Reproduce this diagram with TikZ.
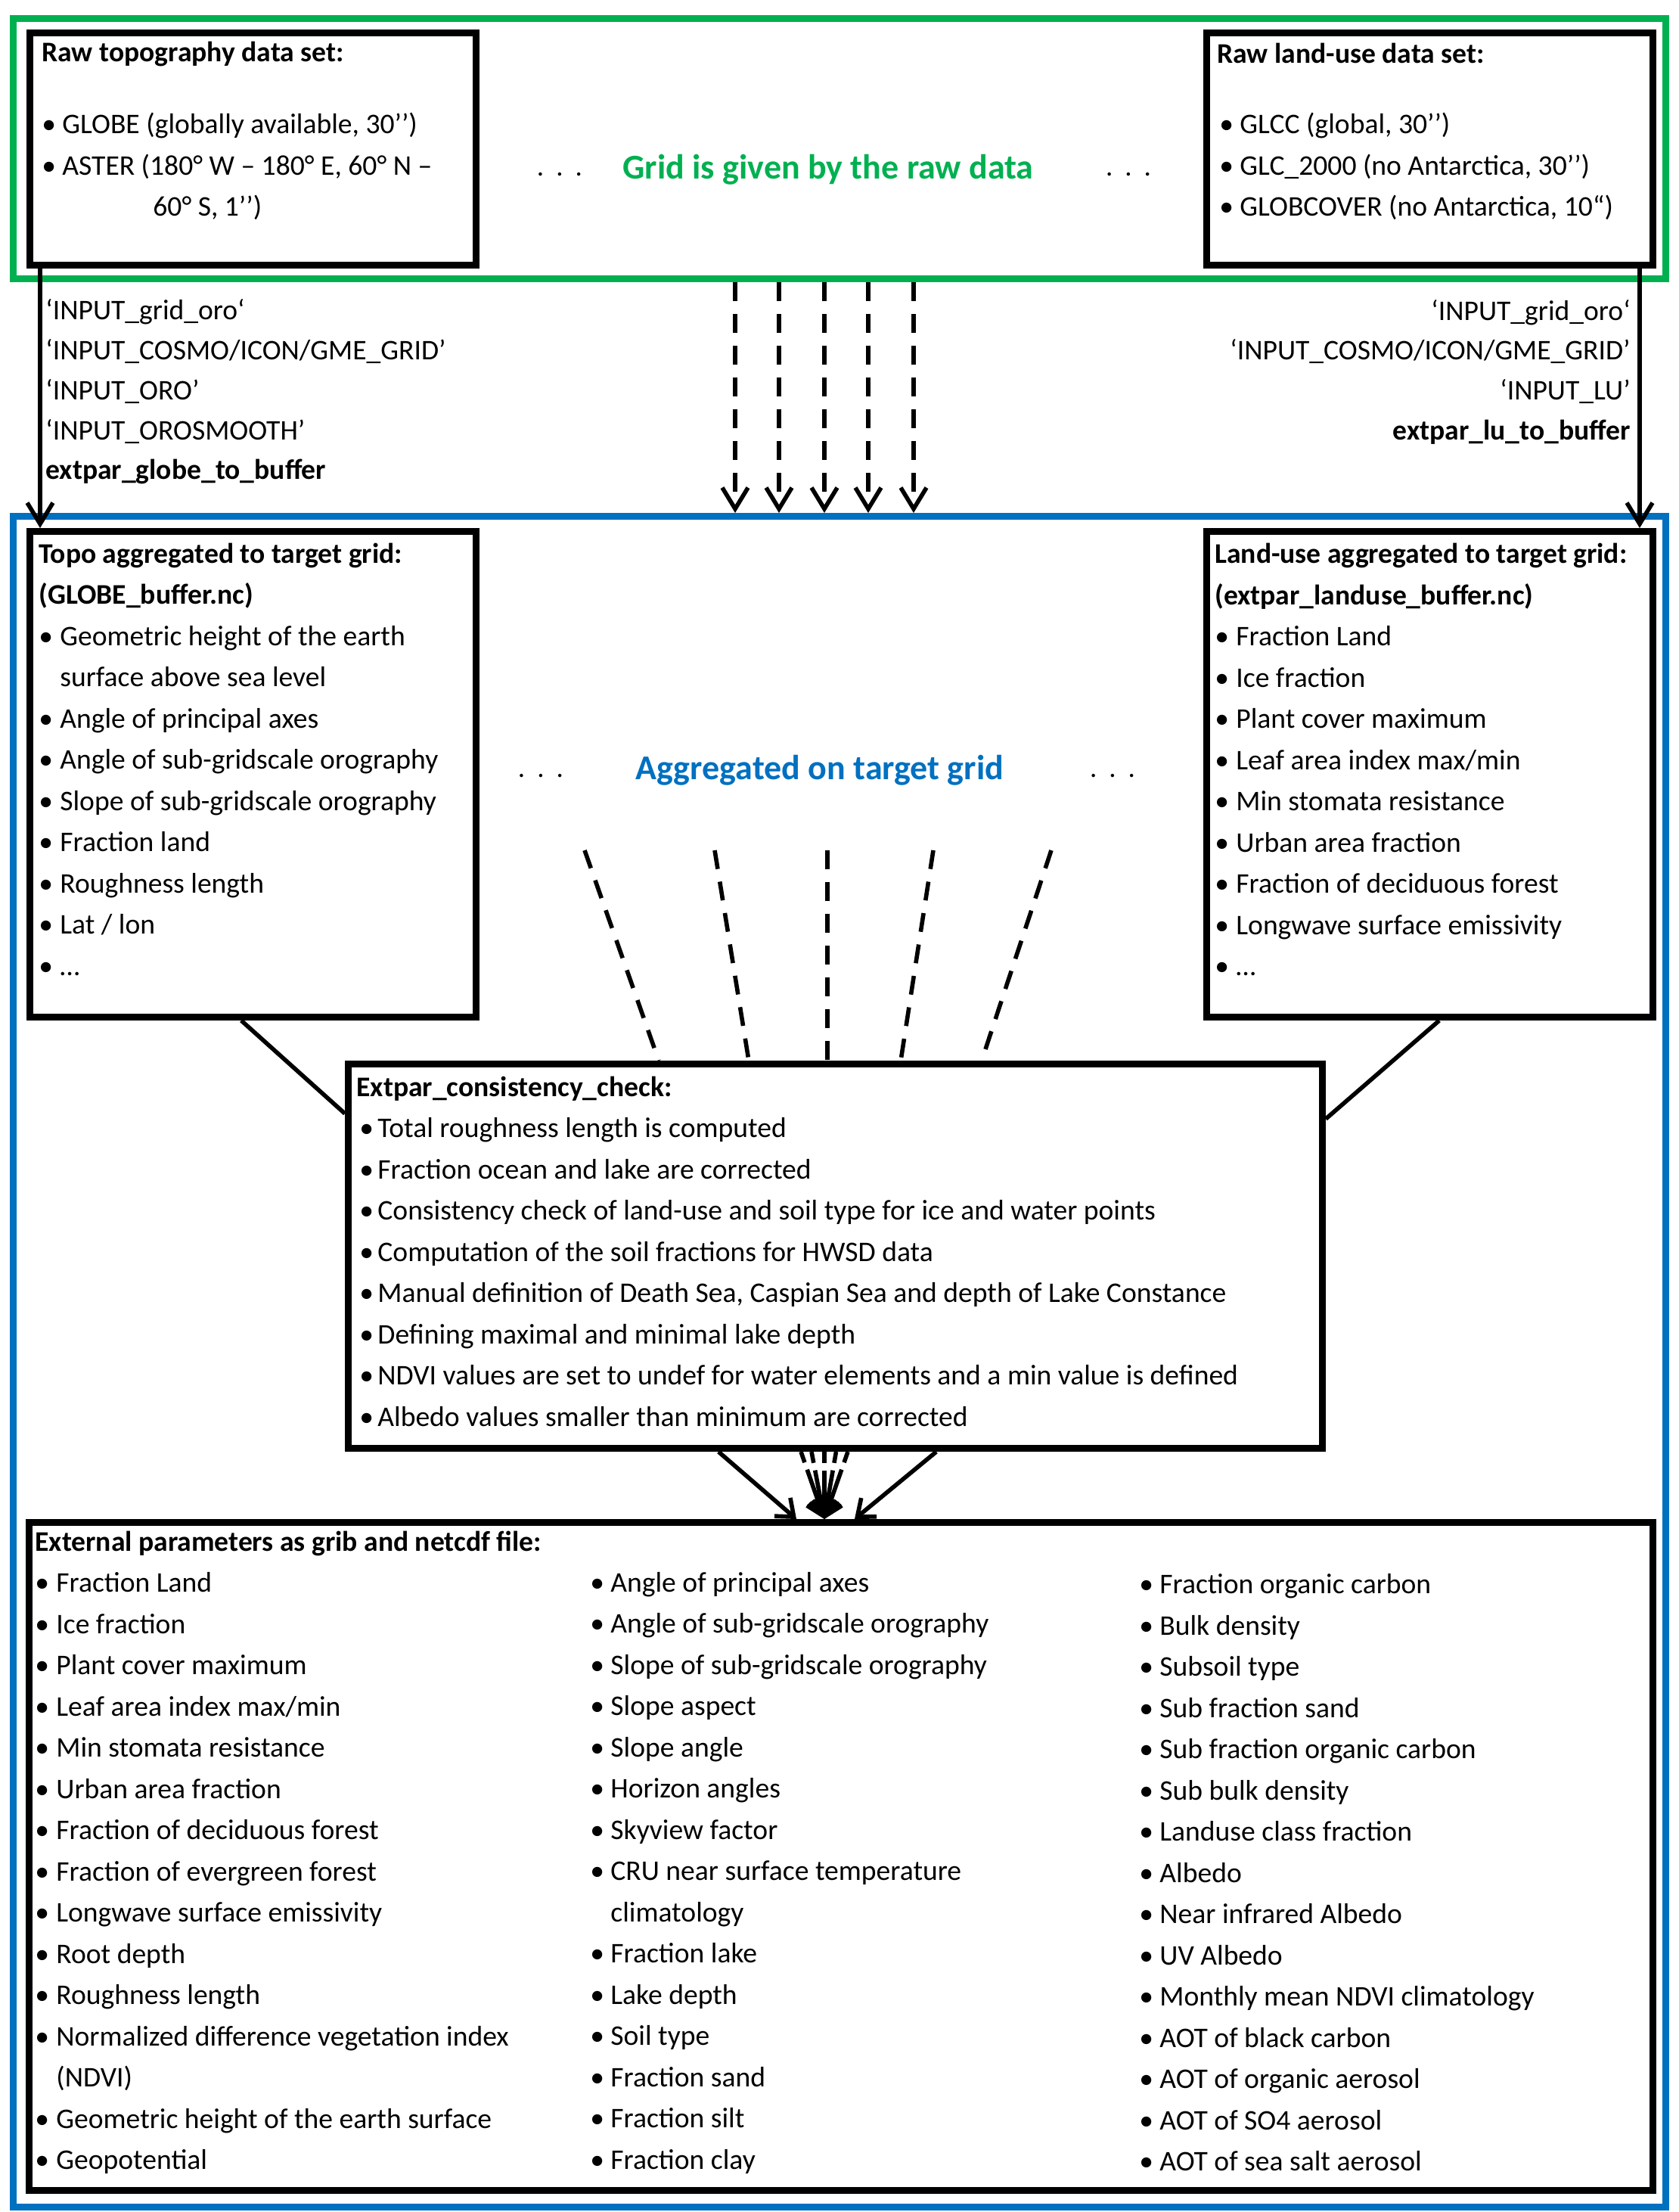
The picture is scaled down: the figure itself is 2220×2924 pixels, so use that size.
\documentclass[tikz,border=0pt]{standalone}
\usepackage{fontspec}
\setmainfont{Carlito}
\usepackage{xcolor}
\usepackage{tikz}
\usetikzlibrary{arrows.meta}

\definecolor{rawgreen}{RGB}{0,176,80}
\definecolor{aggblue}{RGB}{0,112,192}
\newcommand{\itembul}[1][14pt]{\makebox[#1][l]{\textbullet}}
\newcommand{\checkbul}{\hspace*{2pt}\itembul[12pt]}

\begin{document}
\begin{tikzpicture}[x=0.5pt,y=-0.5pt,
		box/.style={draw, line width=4.5pt, inner sep=0pt},
		conn/.style={line width=2.8pt},
		tip/.style={-{Straight Barb[length=14pt,width=17pt,line width=2.8pt]}},
		smalltip/.style={-{Straight Barb[length=10pt,width=16pt,line width=2.8pt]}},
		dashline/.style={dash pattern=on 12.5pt off 8.5pt},
		shortdash/.style={dash pattern=on 7.5pt off 5pt on 100pt off 0pt},
		txt/.style={anchor=west, inner sep=0pt, align=left, font=\fontsize{18.8}{27.25}\selectfont},
		calls/.style={txt, font=\fontsize{18.8}{26.35}\selectfont},
		head/.style={anchor=base, inner sep=0pt, font=\fontsize{23}{28}\selectfont\bfseries},
		dots/.style={anchor=base, inner sep=0pt, font=\fontsize{18.5}{22}\selectfont}]
				\useasboundingbox (0,0) rectangle (2220,2924);
				
				% frames
				\node [box, draw=rawgreen, minimum width=1092.5pt, minimum height=172pt] (greenframe) at (1110,196.5) {};
				\node [box, draw=aggblue, minimum width=1092.5pt, minimum height=1117.5pt] (blueframe) at (1110,1800) {};
				
				% boxes
				\node [box, minimum width=295pt, minimum height=153.5pt] (rawtopo) at (334.5,197) {};
				\node [box, minimum width=295pt, minimum height=153.5pt] (rawlu) at (1890.5,197) {};
				\node [box, minimum width=295pt, minimum height=321pt] (topoagg) at (334.5,1023.5) {};
				\node [box, minimum width=295pt, minimum height=321pt] (luagg) at (1890.5,1023.5) {};
				\node [box, minimum width=644pt, minimum height=254pt] (check) at (1104.5,1660.5) {};
				\node [box, minimum width=1073.5pt, minimum height=441.5pt] (output) at (1112,2454) {};
				
				% raw data
				\node [txt] (rawtopotitle) at (55,71) {\textbf{Raw topography data set:}};
				\node [txt] (rawtopolist) at (55,220) {\itembul[13.5pt]GLOBE (globally available, 30’’)\\
					\itembul[13.5pt]ASTER (180° W – 180° E, 60° N –\\
					\hspace*{73.5pt}60° S, 1’’)};
				\node [txt] (rawlutitle) at (1609,70) {\textbf{Raw land-use data set:}};
				\node [txt] (rawlulist) at (1612,220) {\itembul[13.5pt]GLCC (global, 30’’)\\
					\itembul[13.5pt]GLC\_2000 (no Antarctica, 30’’)\\
					\itembul[13.5pt]GLOBCOVER (no Antarctica, 10“)};
				
				\node [dots] (rawdotsl) at (740,232) {.\hspace{8pt}.\hspace{8pt}.};
				\node [head, text=rawgreen] (rawhead) at (1095,236) {Grid is given by the raw data};
				\node [dots] (rawdotsr) at (1492,232) {.\hspace{8pt}.\hspace{8pt}.};
				
				\draw [conn, tip] ([xshift=9pt]rawtopo.south west) -- ([xshift=9pt]topoagg.north west);
				\draw [conn, tip] ([xshift=-11pt]rawlu.south east) -- ([xshift=-11pt]luagg.north east);
				\draw [conn, dashline, tip] ([xshift=-69pt]greenframe.south) -- ([xshift=-69pt]blueframe.north);
				\draw [conn, dashline, tip] ([xshift=-40pt]greenframe.south) -- ([xshift=-40pt]blueframe.north);
				\draw [conn, dashline, tip] ([xshift=-10pt]greenframe.south) -- ([xshift=-10pt]blueframe.north);
				\draw [conn, dashline, tip] ([xshift=19pt]greenframe.south) -- ([xshift=19pt]blueframe.north);
				\draw [conn, dashline, tip] ([xshift=49pt]greenframe.south) -- ([xshift=49pt]blueframe.north);
				
				\node [calls] (topocalls) at (60,518) {‘INPUT\_grid\_oro‘\\
					‘INPUT\_COSMO/ICON/GME\_GRID’\\
					‘INPUT\_ORO’\\
					‘INPUT\_OROSMOOTH’\\
					\textbf{extpar\_globe\_to\_buffer}};
				\node [calls, anchor=east, align=right] (lucalls) at (2156,491.5) {‘INPUT\_grid\_oro‘\\
					‘INPUT\_COSMO/ICON/GME\_GRID’\\
					‘INPUT\_LU’\\
					\textbf{extpar\_lu\_to\_buffer}};
				
				% aggregated
				\node [txt] (topoagglist) at (51,1003.5) {\textbf{Topo aggregated to target grid:}\\
					\textbf{(GLOBE\_buffer.nc)}\\
					\itembul Geometric height of the earth\\
					\hspace*{14pt}surface above sea level\\
					\itembul Angle of principal axes\\
					\itembul Angle of sub-gridscale orography\\
					\itembul Slope of sub-gridscale orography\\
					\itembul Fraction land\\
					\itembul Roughness length\\
					\itembul Lat / lon\\
					\itembul …};
				\node [txt] (luagglist) at (1606,1004) {\textbf{Land-use aggregated to target grid:}\\
					\textbf{(extpar\_landuse\_buffer.nc)}\\
					\itembul Fraction Land\\
					\itembul Ice fraction\\
					\itembul Plant cover maximum\\
					\itembul Leaf area index max/min\\
					\itembul Min stomata resistance\\
					\itembul Urban area fraction\\
					\itembul Fraction of deciduous forest\\
					\itembul Longwave surface emissivity\\
					\itembul …};
				
				\node [dots] (aggdotsl) at (715,1027) {.\hspace{8pt}.\hspace{8pt}.};
				\node [head, text=aggblue] (agghead) at (1084,1030) {Aggregated on target grid};
				\node [dots] (aggdotsr) at (1471,1027) {.\hspace{8pt}.\hspace{8pt}.};
				
				\coordinate (fan1) at (773,1124);
				\coordinate (fan2) at (945,1124);
				\coordinate (fan3) at (1094,1124);
				\coordinate (fan4) at (1234,1124);
				\coordinate (fan5) at (1390,1124);
				\draw [conn, dashline] (fan1) -- ([xshift=-116.75pt]check.north);
				\draw [conn, dashline] (fan2) -- ([xshift=-57.25pt]check.north);
				\draw [conn, dashline] (fan3) -- ([xshift=-5.25pt]check.north);
				\draw [conn, dashline] (fan4) -- ([xshift=43.25pt]check.north);
				\draw [conn, dashline] (fan5) -- ([xshift=96.75pt]check.north);
				
				\draw [conn] ([xshift=-7.75pt]topoagg.south) -- ([yshift=-35pt]check.north west);
				\draw [conn] ([xshift=6.25pt]luagg.south) -- ([yshift=-38.5pt]check.north east);
				
				% consistency check
				\node [txt] (checklist) at (471,1654) {\textbf{Extpar\_consistency\_check:}\\
					\checkbul Total roughness length is computed\\
					\checkbul Fraction ocean and lake are corrected\\
					\checkbul Consistency check of land-use and soil type for ice and water points\\
					\checkbul Computation of the soil fractions for HWSD data\\
					\checkbul Manual definition of Death Sea, Caspian Sea and depth of Lake Constance\\
					\checkbul Defining maximal and minimal lake depth\\
					\checkbul NDVI values are set to undef for water elements and a min value is defined\\
					\checkbul Albedo values smaller than minimum are corrected};
				
				\draw [conn, smalltip] ([xshift=-77.25pt]check.south) -- ([xshift=-29.5pt]output.north);
				\draw [conn, smalltip] ([xshift=66.75pt]check.south) -- ([xshift=9pt]output.north);
				\draw [conn, shortdash, smalltip] ([xshift=-22.75pt]check.south) -- ([xshift=-11pt]output.north);
				\draw [conn, shortdash, smalltip] ([xshift=-15.75pt]check.south) -- ([xshift=-11pt]output.north);
				\draw [conn, shortdash, smalltip] ([xshift=-7.25pt]check.south) -- ([xshift=-11pt]output.north);
				\draw [conn, shortdash, smalltip] ([xshift=0.5pt]check.south) -- ([xshift=-11pt]output.north);
				\draw [conn, shortdash, smalltip] ([xshift=8.25pt]check.south) -- ([xshift=-11pt]output.north);
				
				% external parameters
				\node [txt] (outcola) at (46,2449) {\textbf{External parameters as grib and netcdf file:}\\
					\itembul Fraction Land\\
					\itembul Ice fraction\\
					\itembul Plant cover maximum\\
					\itembul Leaf area index max/min\\
					\itembul Min stomata resistance\\
					\itembul Urban area fraction\\
					\itembul Fraction of deciduous forest\\
					\itembul Fraction of evergreen forest\\
					\itembul Longwave surface emissivity\\
					\itembul Root depth\\
					\itembul Roughness length\\
					\itembul Normalized difference vegetation index\\
					\hspace*{14pt}(NDVI)\\
					\itembul Geometric height of the earth surface\\
					\itembul Geopotential};
				\node [txt] (outcolb) at (780,2475.5) {\itembul[13.5pt]Angle of principal axes\\
					\itembul[13.5pt]Angle of sub-gridscale orography\\
					\itembul[13.5pt]Slope of sub-gridscale orography\\
					\itembul[13.5pt]Slope aspect\\
					\itembul[13.5pt]Slope angle\\
					\itembul[13.5pt]Horizon angles\\
					\itembul[13.5pt]Skyview factor\\
					\itembul[13.5pt]CRU near surface temperature\\
					\hspace*{13.5pt}climatology\\
					\itembul[13.5pt]Fraction lake\\
					\itembul[13.5pt]Lake depth\\
					\itembul[13.5pt]Soil type\\
					\itembul[13.5pt]Fraction sand\\
					\itembul[13.5pt]Fraction silt\\
					\itembul[13.5pt]Fraction clay};
				\node [txt] (outcolc) at (1506,2475.5) {\itembul[13.5pt]Fraction organic carbon\\
					\itembul[13.5pt]Bulk density\\
					\itembul[13.5pt]Subsoil type\\
					\itembul[13.5pt]Sub fraction sand\\
					\itembul[13.5pt]Sub fraction organic carbon\\
					\itembul[13.5pt]Sub bulk density\\
					\itembul[13.5pt]Landuse class fraction\\
					\itembul[13.5pt]Albedo\\
					\itembul[13.5pt]Near infrared Albedo\\
					\itembul[13.5pt]UV Albedo\\
					\itembul[13.5pt]Monthly mean NDVI climatology\\
					\itembul[13.5pt]AOT of black carbon\\
					\itembul[13.5pt]AOT of organic aerosol\\
					\itembul[13.5pt]AOT of SO4 aerosol\\
					\itembul[13.5pt]AOT of sea salt aerosol};
\end{tikzpicture}
\end{document}
